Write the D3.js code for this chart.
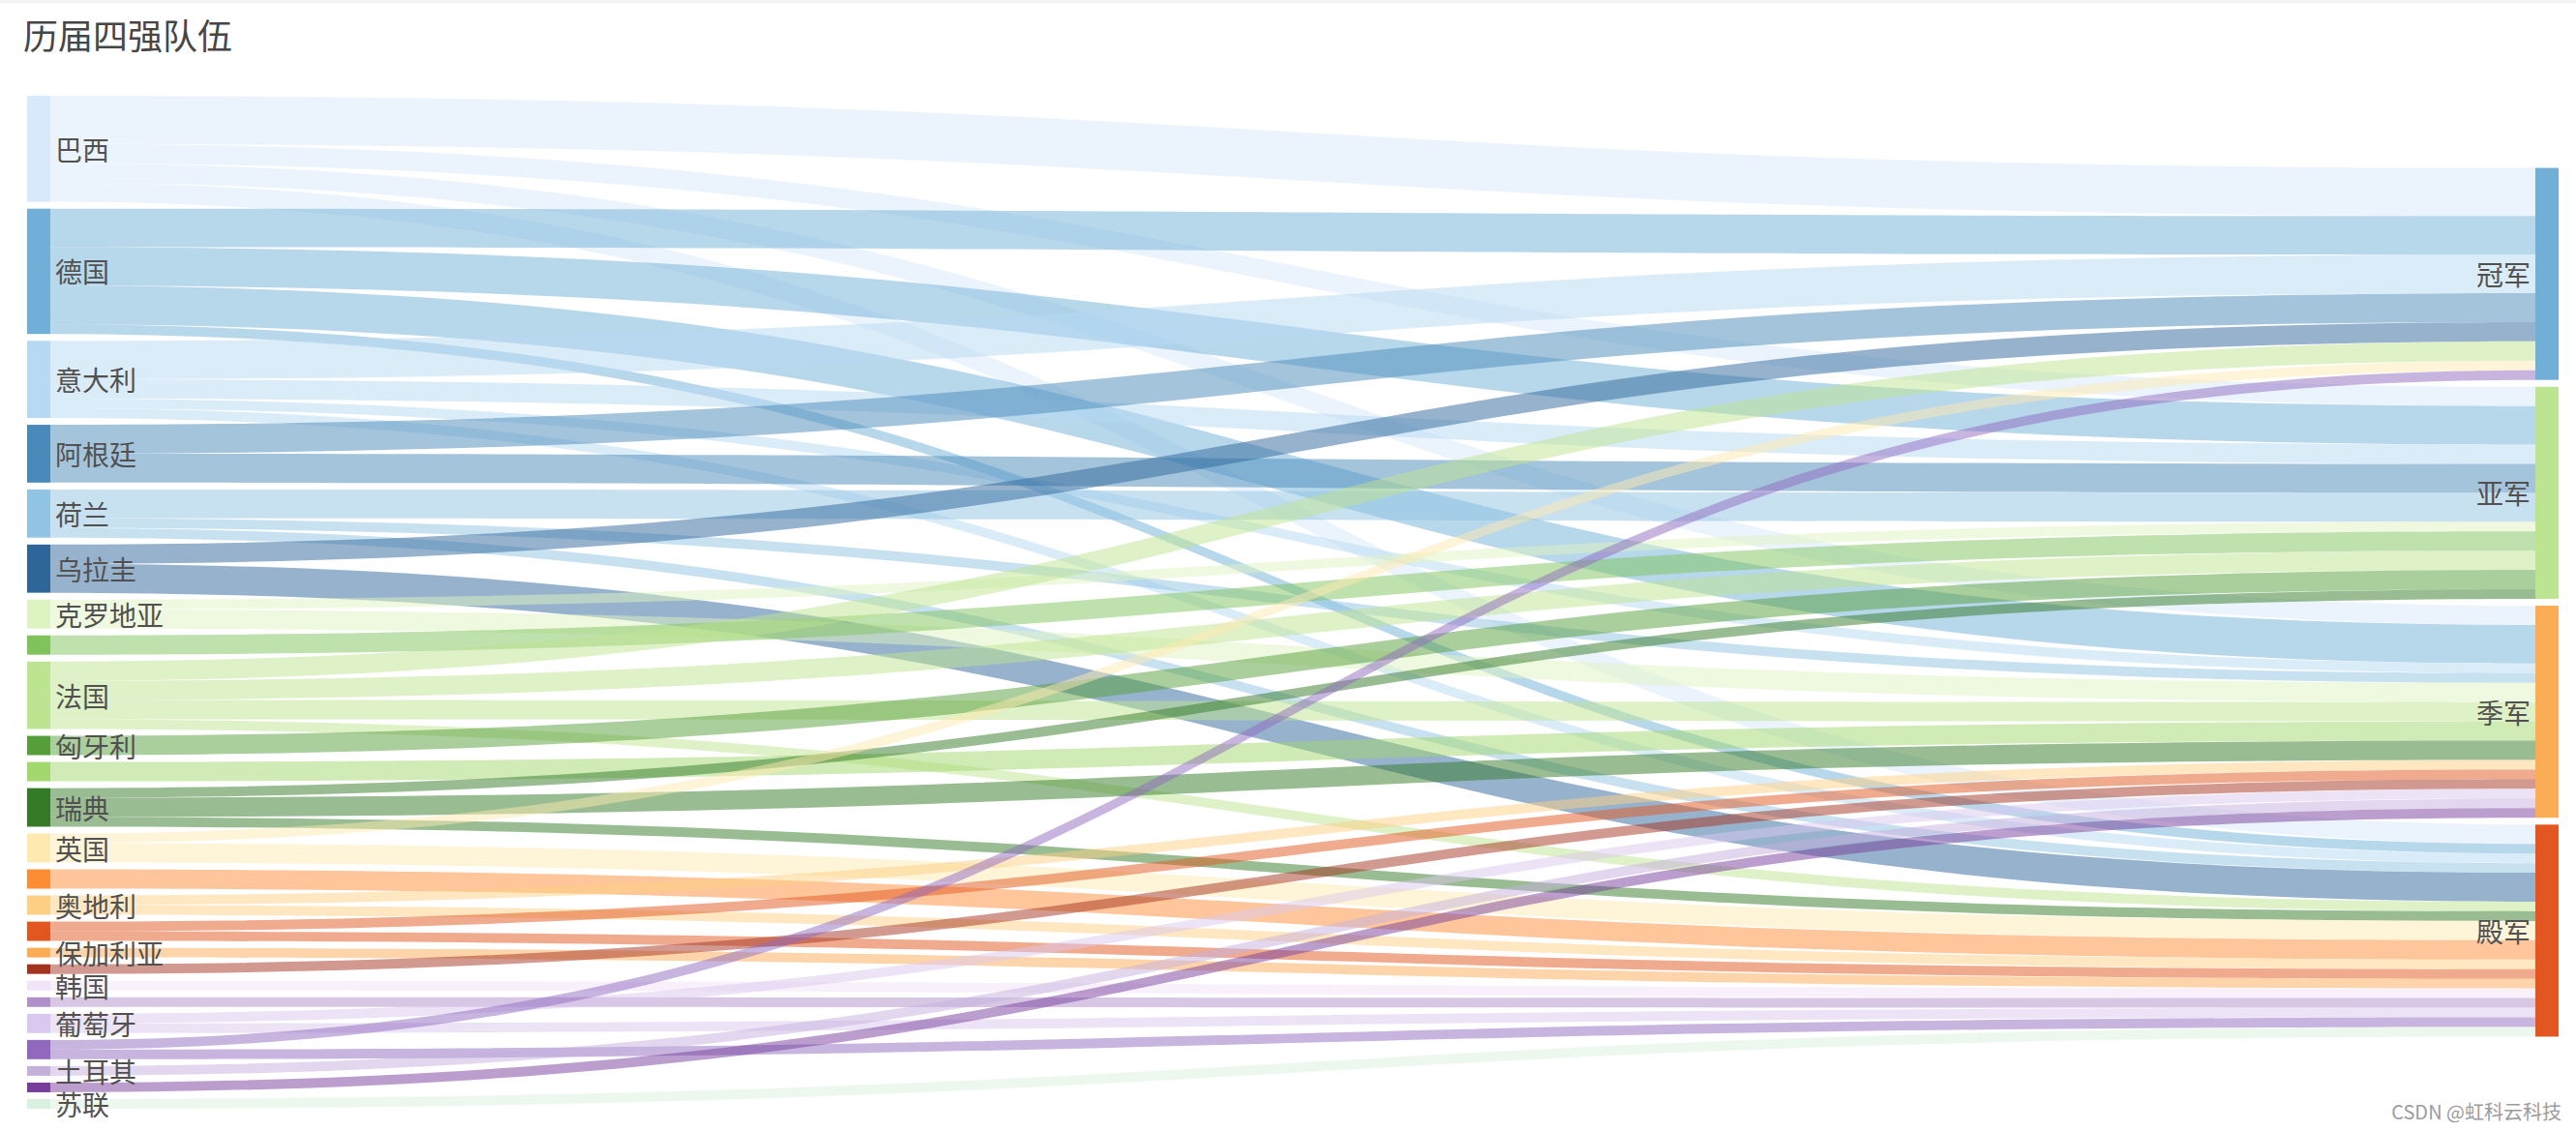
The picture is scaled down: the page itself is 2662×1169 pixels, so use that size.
<!DOCTYPE html>
<html>
<head>
<meta charset="utf-8">
<script src="https://cdn.jsdelivr.net/npm/d3@7/dist/d3.min.js"></script>
<style>
  html, body { margin: 0; padding: 0; background: #fff; overflow: hidden; }
  svg { display: block; }
</style>
</head>
<body>
<svg id="chart" width="2662" height="1169"></svg>
<script>
// ---------- data ----------
const chartTitle = "历届四强队伍";
const watermark = "CSDN @虹科云科技";
const countries = ["巴西","德国","意大利","阿根廷","荷兰","乌拉圭","克罗地亚","捷克斯洛伐克","法国","匈牙利","波兰","瑞典","英国","南斯拉夫","奥地利","比利时","保加利亚","智利","韩国","摩洛哥","葡萄牙","西班牙","土耳其","美国","苏联"];
const countryColors = ["#d7e9fa","#70afd7","#b7d9f3","#4a8aba","#92c4e4","#2e6699","#ddf4c0","#80c35c","#bde490","#559e3a","#a2d86d","#347a27","#fee9b0","#fd8d35","#fdcf84","#e2571f","#fdac56","#a3331f","#f1e4f9","#b090ca","#dbc8ee","#9069bf","#c5afdd","#783d9b","#d9f1de"];
const ranks = ["冠军","亚军","季军","殿军"];
const rankColors = ["#72afd6","#bde490","#fbad55","#e35622"];
// number of times each country finished in each rank (same order as countries)
const champion = [5,4,4,3,0,2,0,0,2,0,0,0,1,0,0,0,0,0,0,0,0,1,0,0,0];
const runnerUp = [2,4,2,3,3,0,1,2,2,2,0,1,0,0,0,0,0,0,0,0,0,0,0,0,0];
const third    = [2,4,1,0,1,0,2,0,2,0,2,2,0,0,1,1,0,1,0,0,1,0,1,1,0];
const fourth   = [2,1,1,0,1,3,0,0,1,0,0,1,2,2,1,1,1,0,1,1,1,1,0,0,1];
const rankSeries = [champion, runnerUp, third, fourth];

(function () {
// ---------- layout settings ----------
const W = 2662, H = 1169;
const yTop = 99, yBottom = 1146;
const x0 = 28, x1 = 2620, nodeW = 24, nodeGap = 7.1;
const labelH = 33.2;

const svg = d3.select("#chart");

// build nodes & links
const left = countries.map((name, i) => ({name, color: countryColors[i], value: d3.sum(rankSeries, s => s[i]), out: []}));
const right = ranks.map((name, j) => ({name, color: rankColors[j], value: d3.sum(rankSeries[j]), inc: []}));
const links = [];
countries.forEach((c, i) => {
  ranks.forEach((r, j) => {
    const v = rankSeries[j][i];
    if (v > 0) {
      const l = {source: left[i], target: right[j], value: v, si: i, tj: j};
      links.push(l);
      left[i].out.push(l);
      right[j].inc.push(l);
    }
  });
});

const total = d3.sum(left, d => d.value);
const unit = (yBottom - yTop - (left.length - 1) * nodeGap) / total;
const vScale = d3.scaleLinear().domain([0, 1]).range([0, unit]);

// left column stacking
let cy = yTop;
left.forEach(n => { n.y0 = cy; n.y1 = cy + vScale(n.value); cy = n.y1 + nodeGap; });
// right column centered
const rightH = d3.sum(right, d => vScale(d.value)) + (right.length - 1) * nodeGap;
cy = (yTop + yBottom) / 2 - rightH / 2;
right.forEach(n => { n.y0 = cy; n.y1 = cy + vScale(n.value); cy = n.y1 + nodeGap; });

// link offsets
left.forEach(n => {
  let y = n.y0;
  n.out.sort((a, b) => a.tj - b.tj).forEach(l => { l.sy0 = y; y += vScale(l.value); l.sy1 = y; });
});
right.forEach(n => {
  let y = n.y0;
  n.inc.sort((a, b) => a.si - b.si).forEach(l => { l.ty0 = y; y += vScale(l.value); l.ty1 = y; });
});

const lx0 = x0 + nodeW, lx1 = x1;
const xm = lx0 + (lx1 - lx0) * 0.5;
function linkPath(l) {
  const p = d3.path();
  p.moveTo(lx0, l.sy0);
  p.bezierCurveTo(xm, l.sy0, xm, l.ty0, lx1, l.ty0);
  p.lineTo(lx1, l.ty1);
  p.bezierCurveTo(xm, l.ty1, xm, l.sy1, lx0, l.sy1);
  p.closePath();
  return p.toString();
}

// ---------- draw ----------
svg.append("rect").attr("width", W).attr("height", 3).attr("fill", "#f4f4f4");

svg.append("g").selectAll("path").data(links).join("path")
  .attr("d", linkPath)
  .attr("fill", d => d.source.color)
  .attr("fill-opacity", 0.5);

svg.append("g").selectAll("rect").data(left).join("rect")
  .attr("x", x0).attr("y", d => d.y0).attr("width", nodeW).attr("height", d => d.y1 - d.y0)
  .attr("fill", d => d.color);
svg.append("g").selectAll("rect").data(right).join("rect")
  .attr("x", x1).attr("y", d => d.y0).attr("width", nodeW).attr("height", d => d.y1 - d.y0)
  .attr("fill", d => d.color);

// label overlap hiding
function markVisible(nodes) {
  let lastBottom = -Infinity;
  nodes.forEach(n => {
    const c = (n.y0 + n.y1) / 2;
    if (c - labelH / 2 < lastBottom) { n.show = false; }
    else { n.show = true; lastBottom = c + labelH / 2; }
  });
}
markVisible(left); markVisible(right);

const font = "'Noto Sans CJK SC', 'Noto Sans', sans-serif";
svg.append("g").selectAll("text").data(left.filter(d => d.show)).join("text")
  .attr("x", x0 + nodeW + 5).attr("y", d => (d.y0 + d.y1) / 2)
  .attr("dominant-baseline", "central")
  .attr("font-family", font).attr("font-size", 28).attr("fill", "#515151")
  .text(d => d.name);
svg.append("g").selectAll("text").data(right.filter(d => d.show)).join("text")
  .attr("x", x1 - 5).attr("y", d => (d.y0 + d.y1) / 2)
  .attr("dominant-baseline", "central").attr("text-anchor", "end")
  .attr("font-family", font).attr("font-size", 28).attr("fill", "#515151")
  .text(d => d.name);

svg.append("text").attr("x", 24).attr("y", 51)
  .attr("font-family", font).attr("font-size", 36).attr("fill", "#464646")
  .text(chartTitle);

svg.append("text").attr("x", 2647).attr("y", 1157).attr("text-anchor", "end")
  .attr("font-family", "'Noto Sans CJK SC', sans-serif").attr("font-size", 20).attr("fill", "#9c9c9c")
  .text(watermark);
})();
</script>
</body>
</html>
